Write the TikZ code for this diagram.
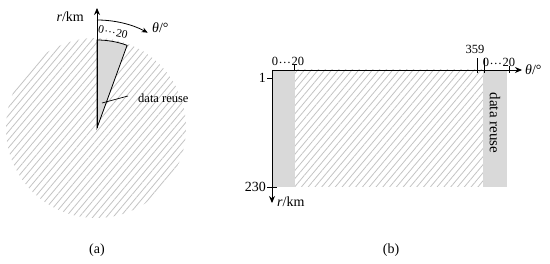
\documentclass[tikz,border=0pt]{standalone}
\usepackage{fontspec}
\setmainfont{Liberation Serif}
\usetikzlibrary{patterns.meta,arrows.meta,calc}
\definecolor{hatchgray}{RGB}{195,195,195}
\definecolor{fillgray}{RGB}{217,217,217}
\newcommand{\mydots}{\kern0.5pt\raisebox{0.22em}{…}\kern0.5pt}
\begin{document}
\begin{tikzpicture}[x=1pt,y=1pt,
  small/.style={font=\fontsize{12.5}{14}\selectfont, inner sep=0pt},
  big/.style={font=\fontsize{14}{16}\selectfont, inner sep=0pt},
  axis/.style={line width=0.9pt,-{Stealth[length=7pt,width=6pt]}},
  tickline/.style={line width=0.7pt},
  hatch/.style={pattern={Lines[angle=50,distance=5.2pt,line width=0.8pt]}, pattern color=hatchgray},
  strip/.style={fill=fillgray, draw=none}]
\useasboundingbox (0,0) rectangle (550,263);
% ---------- (a) ----------
\coordinate (C) at (97,135);
\path[hatch] (96,135) circle[radius=90];
\draw[fill=fillgray, line width=0.8pt] (C) -- ++(90:88) arc[start angle=90,end angle=70,radius=88] -- cycle;
\coordinate (atop) at (97,255);
\draw[axis] (C) -- (atop);
\node[big, anchor=east] (rkma) at (84,246) {\textit{r}/km};
\draw[line width=0.8pt,-{Stealth[length=6pt,width=5pt]}] (97,243) arc[start angle=90,end angle=62,radius=108] coordinate (ce);
\node[big, anchor=west] (tha) at (152,235) {\textit{θ}/°};
\node[small, font=\fontsize{11.5}{13}\selectfont, rotate=-12] (la) at ($(C)+(80.5:97)$) {0\mydots20};
\node[small, anchor=west] (dra) at (138,165) {data reuse};
\coordinate (lead1) at (102,160);
\coordinate (lead2) at (128,167);
\draw[line width=0.7pt] (lead1) -- (lead2);
\node[big] (capa) at (97,13) {(a)};
% ---------- (b) ----------
\coordinate (O) at (272,193);
\path[hatch] (295,76) rectangle (483,193);
\path[strip] (272,76) rectangle (295,193);
\path[strip] (483,76) rectangle (507,193);
\coordinate (xend) at (522,193);
\coordinate (yend) at (272,60);
\draw[axis] (O) -- (xend);
\draw[axis] (O) -- (yend);
\draw[tickline] (294,193) -- (294,198);
\draw[tickline] (477,190) -- (477,205);
\draw[tickline] (484,190) -- (484,205);
\draw[tickline] (509,190) -- (509,197);
\draw[tickline] (267,185) -- (272,185);
\draw[tickline] (267,76) -- (277,76);
\node[big, anchor=east] (one) at (266,185) {1};
\node[big, anchor=east] (t230) at (266,76) {230};
\node[small, anchor=base] (lb1) at (288,197) {0\mydots20};
\node[small, anchor=base] (lb359) at (475,209) {359};
\node[small, anchor=base] (lb2) at (499,196) {0\mydots20};
\node[big, anchor=west] (thb) at (525,193) {\textit{θ}/°};
\node[big, anchor=west] (rkmb) at (277,61) {\textit{r}/km};
\node[font=\fontsize{15}{17}\selectfont, inner sep=0pt, rotate=-90] (drb) at (495,140) {data reuse};
\node[big] (capb) at (391,13) {(b)};
\end{tikzpicture}
\end{document}
